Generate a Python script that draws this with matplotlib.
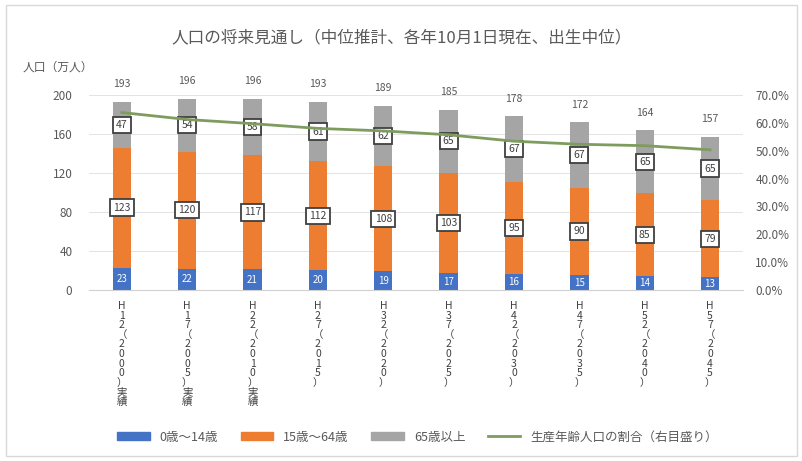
import matplotlib
matplotlib.use("Agg")
import matplotlib.pyplot as plt
from matplotlib.patches import Rectangle
from matplotlib.lines import Line2D
from matplotlib.ticker import FuncFormatter
import numpy as np

plt.rcParams["font.family"] = ["Noto Sans CJK JP", "DejaVu Sans"]

# 年齢3区分別人口（万人）と生産年齢人口の割合（%）
periods = ["H12（2000）実績", "H17（2005）実績", "H22（2010）実績", "H27（2015）",
           "H32（2020）", "H37（2025）", "H42（2030）", "H47（2035）",
           "H52（2040）", "H57（2045）"]
young = [23, 22, 21, 20, 19, 17, 16, 15, 14, 13]
working = [123, 120, 117, 112, 108, 103, 95, 90, 85, 79]
old = [47, 54, 58, 61, 62, 65, 67, 67, 65, 65]
working_share = [63.7, 61.2, 59.7, 58.0, 57.1, 55.7, 53.4, 52.3, 51.8, 50.3]

c_young = "#4472C4"
c_work = "#ED7D31"
c_old = "#A5A5A5"
c_line = "#7f9c5f"
c_text = "#595959"

fig = plt.figure(figsize=(8.03, 4.61), dpi=100)
ax = fig.add_axes([0.111, 0.371, 0.814, 0.423])
ax2 = ax.twinx()

x = np.arange(len(periods))
young = np.array(young, float)
working = np.array(working, float)
old = np.array(old, float)
total = young + working + old

w = 0.28
ax.bar(x, young, w, color=c_young, zorder=2)
ax.bar(x, working, w, bottom=young, color=c_work, zorder=2)
ax.bar(x, old, w, bottom=young + working, color=c_old, zorder=2)

box = dict(boxstyle="square,pad=0.3", fc="white", ec="#404040", lw=1.3)
for i in range(len(x)):
    ax.text(x[i], young[i] / 2, f"{young[i]:.0f}", ha="center", va="center",
            fontsize=7, color="white", zorder=4)
    ax.text(x[i], young[i] + working[i] / 2, f"{working[i]:.0f}", ha="center",
            va="center", fontsize=7.5, color="#404040", bbox=box, zorder=4)
    ax.text(x[i], young[i] + working[i] + old[i] / 2, f"{old[i]:.0f}", ha="center",
            va="center", fontsize=7.5, color="#404040", bbox=box, zorder=4)
    ax.annotate(f"{total[i]:.0f}", (x[i], total[i]), xytext=(0, 9),
                textcoords="offset points", ha="center", va="bottom",
                fontsize=7.5, color=c_text)

ax2.plot(x, working_share, color=c_line, lw=2, zorder=3)

ax.set_xlim(-0.5, len(x) - 0.5)
ax.set_ylim(0, 200)
ax.set_yticks(np.arange(0, 201, 40))
ax2.set_ylim(0, 70)
ax2.set_yticks(np.arange(0, 71, 10))
ax2.yaxis.set_major_formatter(FuncFormatter(lambda v, p: f"{v:.1f}%"))

ax.grid(axis="y", color="#e3e3e3", lw=0.7, zorder=0)
ax.set_axisbelow(True)
for a in (ax, ax2):
    for s in a.spines.values():
        s.set_visible(False)
    a.tick_params(length=0, labelsize=8.5, colors=c_text)
ax.spines["bottom"].set_visible(True)
ax.spines["bottom"].set_color("#d0d0d0")
ax.tick_params(axis="y", pad=12)
ax2.tick_params(axis="y", pad=9)

ax.set_xticks(x)
ax.set_xticklabels(["\n".join(p) for p in periods], fontsize=7.5,
                   linespacing=0.95, va="top", color="#404040")
ax.tick_params(axis="x", pad=8)

fig.text(0.5, 0.918, "人口の将来見通し（中位推計、各年10月1日現在、出生中位）",
         ha="center", va="center", fontsize=12, color=c_text)
fig.text(0.028, 0.855, "人口（万人）", ha="left", va="center", fontsize=8.5,
         color=c_text)

handles = [Rectangle((0, 0), 1, 1, color=c_young), Rectangle((0, 0), 1, 1, color=c_work),
           Rectangle((0, 0), 1, 1, color=c_old), Line2D([], [], color=c_line, lw=2)]
names = ["0歳～14歳", "15歳～64歳", "65歳以上", "生産年齢人口の割合（右目盛り）"]
fig.legend(handles, names, loc="center", bbox_to_anchor=(0.52, 0.052), ncol=4,
           frameon=False, fontsize=9, handlelength=2.6, handleheight=0.6,
           columnspacing=1.8, labelcolor=c_text)

fig.add_artist(Rectangle((0.008, 0.01), 0.984, 0.98, transform=fig.transFigure,
                         fill=False, ec="#d9d9d9", lw=1))

fig.savefig("out.png", dpi=100)
